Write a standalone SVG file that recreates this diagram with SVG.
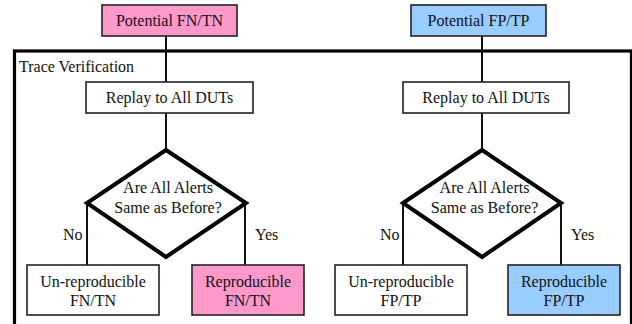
<svg xmlns="http://www.w3.org/2000/svg" width="632" height="324" viewBox="0 0 632 324">
<style>
.box{stroke:#222;stroke-width:1.6}
.w{fill:#fff}
.pk{fill:#ff99cc}
.bl{fill:#99ccff}
.dia{fill:#fff;stroke:#000;stroke-width:4}
.ln{stroke:#111;stroke-width:2;fill:none}
</style>
<rect width="632" height="324" fill="#fff"/>
<g id="frame">
<rect x="14.5" y="51" width="617" height="290" fill="none" stroke="#000" stroke-width="3.2"/>
<text x="19" y="72" font-family="Liberation Serif, serif" font-size="16" fill="#111">Trace Verification</text>
</g>
<g id="connectors">
<line class="ln" x1="166" y1="36" x2="166" y2="82"/>
<line class="ln" x1="482" y1="36" x2="482" y2="82"/>
<line class="ln" x1="166" y1="113" x2="166" y2="150"/>
<line class="ln" x1="482" y1="113" x2="482" y2="150"/>
<line class="ln" x1="87" y1="203" x2="87" y2="265"/>
<line class="ln" x1="245" y1="203" x2="245" y2="265"/>
<line class="ln" x1="403" y1="203" x2="403" y2="265"/>
<line class="ln" x1="561" y1="203" x2="561" y2="265"/>
<text x="63" y="240" font-family="Liberation Serif, serif" font-size="16" fill="#111">No</text>
<text x="255" y="240" font-family="Liberation Serif, serif" font-size="16" fill="#111">Yes</text>
<text x="380" y="240" font-family="Liberation Serif, serif" font-size="16" fill="#111">No</text>
<text x="571" y="240" font-family="Liberation Serif, serif" font-size="16" fill="#111">Yes</text>
</g>
<g id="potential-fn-tn">
<rect class="box pk" x="102" y="5" width="135" height="31"/>
<text x="169.5" y="26" text-anchor="middle" font-family="Liberation Serif, serif" font-size="16" fill="#111">Potential FN/TN</text>
</g>
<g id="potential-fp-tp">
<rect class="box bl" x="411" y="5" width="135" height="31"/>
<text x="478.5" y="26" text-anchor="middle" font-family="Liberation Serif, serif" font-size="16" fill="#111">Potential FP/TP</text>
</g>
<g id="replay-left">
<rect class="box w" x="86" y="82" width="167" height="31"/>
<text x="169.5" y="103" text-anchor="middle" font-family="Liberation Serif, serif" font-size="16" fill="#111">Replay to All DUTs</text>
</g>
<g id="replay-right">
<rect class="box w" x="403" y="82" width="166" height="31"/>
<text x="486" y="103" text-anchor="middle" font-family="Liberation Serif, serif" font-size="16" fill="#111">Replay to All DUTs</text>
</g>
<g id="decision-left">
<polygon class="dia" points="166,150 246,203 166,257 87,203"/>
<text x="168" y="193" text-anchor="middle" font-family="Liberation Serif, serif" font-size="16" fill="#111">Are All Alerts</text>
<text x="168" y="212.5" text-anchor="middle" font-family="Liberation Serif, serif" font-size="16" fill="#111">Same as Before?</text>
</g>
<g id="decision-right">
<polygon class="dia" points="482,150 561,203 482,257 403,203"/>
<text x="484.5" y="193" text-anchor="middle" font-family="Liberation Serif, serif" font-size="16" fill="#111">Are All Alerts</text>
<text x="484.5" y="212.5" text-anchor="middle" font-family="Liberation Serif, serif" font-size="16" fill="#111">Same as Before?</text>
</g>
<g id="unrep-fn-tn">
<rect class="box w" x="27" y="265" width="132" height="50"/>
<text x="93" y="286.5" text-anchor="middle" font-family="Liberation Serif, serif" font-size="16" fill="#111">Un-reproducible</text>
<text x="93" y="306" text-anchor="middle" font-family="Liberation Serif, serif" font-size="16" fill="#111">FN/TN</text>
</g>
<g id="rep-fn-tn">
<rect class="box pk" x="192" y="265" width="112" height="50"/>
<text x="248" y="286.5" text-anchor="middle" font-family="Liberation Serif, serif" font-size="16" fill="#111">Reproducible</text>
<text x="248" y="306" text-anchor="middle" font-family="Liberation Serif, serif" font-size="16" fill="#111">FN/TN</text>
</g>
<g id="unrep-fp-tp">
<rect class="box w" x="335" y="265" width="132" height="50"/>
<text x="401" y="286.5" text-anchor="middle" font-family="Liberation Serif, serif" font-size="16" fill="#111">Un-reproducible</text>
<text x="401" y="306" text-anchor="middle" font-family="Liberation Serif, serif" font-size="16" fill="#111">FP/TP</text>
</g>
<g id="rep-fp-tp">
<rect class="box bl" x="508" y="265" width="112" height="50"/>
<text x="564" y="286.5" text-anchor="middle" font-family="Liberation Serif, serif" font-size="16" fill="#111">Reproducible</text>
<text x="564" y="306" text-anchor="middle" font-family="Liberation Serif, serif" font-size="16" fill="#111">FP/TP</text>
</g>
</svg>
